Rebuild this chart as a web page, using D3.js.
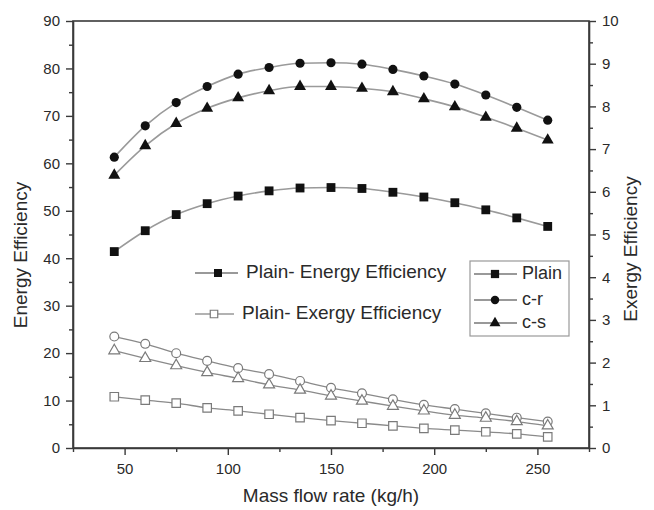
<!DOCTYPE html>
<html>
<head>
<meta charset="utf-8">
<script src="https://cdn.jsdelivr.net/npm/d3@7"></script>
<style>
  html, body { margin: 0; padding: 0; background: #fff; }
  svg { display: block; }
  text { font-family: "Liberation Sans", Arial, sans-serif; fill: #2a2a2a; }
</style>
</head>
<body>
<svg id="chart" width="654" height="510"></svg>
<script>
// ---- data ----
const massFlow = [45, 60, 75, 90, 105, 120, 135, 150, 165, 180, 195, 210, 225, 240, 255];

const energyPlain = [41.4, 45.8, 49.2, 51.5, 53.1, 54.2, 54.8, 54.9, 54.7, 53.9, 52.9, 51.7, 50.2, 48.5, 46.7];
const energyCR    = [61.3, 67.9, 72.8, 76.2, 78.8, 80.2, 81.1, 81.2, 80.9, 79.8, 78.4, 76.7, 74.4, 71.8, 69.1];
const energyCS    = [57.5, 63.7, 68.4, 71.6, 73.8, 75.3, 76.2, 76.2, 75.8, 75.1, 73.6, 71.9, 69.7, 67.4, 64.9];

const exergyPlain = [1.20, 1.12, 1.05, 0.94, 0.87, 0.79, 0.71, 0.64, 0.58, 0.52, 0.46, 0.42, 0.38, 0.33, 0.26];
const exergyCR    = [2.61, 2.44, 2.22, 2.04, 1.87, 1.73, 1.57, 1.41, 1.28, 1.14, 1.01, 0.91, 0.81, 0.71, 0.62];
const exergyCS    = [2.28, 2.10, 1.93, 1.77, 1.63, 1.48, 1.36, 1.22, 1.10, 0.98, 0.87, 0.77, 0.70, 0.62, 0.52];

const xTickLabels = [50, 100, 150, 200, 250];
const leftTickLabels = [0, 10, 20, 30, 40, 50, 60, 70, 80, 90];
const rightTickLabels = [0, 1, 2, 3, 4, 5, 6, 7, 8, 9, 10];

const seriesNames = ["Plain", "c-r", "c-s"];
const legendTypeNames = ["Plain- Energy Efficiency", "Plain- Exergy Efficiency"];

const xTitle = "Mass flow rate (kg/h)";
const yLeftTitle = "Energy Efficiency";
const yRightTitle = "Exergy Efficiency";

// ---- layout ----
const svg = d3.select("#chart");
const L = 73, R = 589, T = 21, B = 448;

const x = d3.scaleLinear().domain([25, 275]).range([L, R]);
const yL = d3.scaleLinear().domain([0, 90]).range([B, T]);
const yR = d3.scaleLinear().domain([0, 10]).range([B, T]);

const axisColor = "#3a3a3a";

// frame
svg.append("rect").attr("x", L).attr("y", T).attr("width", R - L).attr("height", B - T)
  .attr("fill", "none").attr("stroke", axisColor).attr("stroke-width", 1.6);

function styleAxis(g) {
  g.select(".domain").attr("stroke", axisColor).attr("stroke-width", 1.6);
  g.selectAll(".tick line").attr("stroke", axisColor).attr("stroke-width", 1.4);
  g.selectAll(".tick text").attr("font-size", 15).attr("fill", "#333")
    .attr("font-family", "'Liberation Sans', Arial, sans-serif");
}

// minor ticks
const xMinor = d3.range(25, 276, 25).filter(v => !xTickLabels.includes(v));
svg.append("g").attr("transform", `translate(0,${B})`)
  .call(d3.axisBottom(x).tickValues(xMinor).tickSize(4).tickFormat(""))
  .call(g => { g.select(".domain").remove(); g.selectAll(".tick line").attr("stroke", axisColor).attr("stroke-width", 1.4); });
svg.append("g").attr("transform", `translate(${L},0)`)
  .call(d3.axisLeft(yL).tickValues(d3.range(5, 90, 10)).tickSize(4).tickFormat(""))
  .call(g => { g.select(".domain").remove(); g.selectAll(".tick line").attr("stroke", axisColor).attr("stroke-width", 1.4); });
svg.append("g").attr("transform", `translate(${R},0)`)
  .call(d3.axisRight(yR).tickValues(d3.range(0.5, 10, 1)).tickSize(4).tickFormat(""))
  .call(g => { g.select(".domain").remove(); g.selectAll(".tick line").attr("stroke", axisColor).attr("stroke-width", 1.4); });

// major axes
svg.append("g").attr("transform", `translate(0,${B})`)
  .call(d3.axisBottom(x).tickValues(xTickLabels).tickSize(7).tickPadding(8).tickSizeOuter(0))
  .call(styleAxis);
svg.append("g").attr("transform", `translate(${L},0)`)
  .call(d3.axisLeft(yL).tickValues(leftTickLabels).tickSize(7).tickPadding(6).tickSizeOuter(0))
  .call(styleAxis);
svg.append("g").attr("transform", `translate(${R},0)`)
  .call(d3.axisRight(yR).tickValues(rightTickLabels).tickSize(7).tickPadding(6).tickSizeOuter(0))
  .call(styleAxis);

// axis titles
svg.append("text").attr("x", 331).attr("y", 497).attr("text-anchor", "middle")
  .attr("dominant-baseline", "middle").attr("font-size", 19).text(xTitle);
svg.append("text").attr("transform", `translate(22,255) rotate(-90)`)
  .attr("text-anchor", "middle").attr("dominant-baseline", "middle").attr("font-size", 19).text(yLeftTitle);
svg.append("text").attr("transform", `translate(632,249) rotate(-90)`)
  .attr("text-anchor", "middle").attr("dominant-baseline", "middle").attr("font-size", 19).text(yRightTitle);

// ---- series ----
const symTypes = [d3.symbolSquare, d3.symbolCircle, d3.symbolTriangle];
const filledSizes = [78, 66, 62];
const openSizes = [72, 62, 52];

const energySeries = [energyPlain, energyCR, energyCS];
const exergySeries = [exergyPlain, exergyCR, exergyCS];

const lineE = d3.line().x((d, i) => x(massFlow[i])).y(d => yL(d)).curve(d3.curveMonotoneX);
const lineX = d3.line().x((d, i) => x(massFlow[i])).y(d => yR(d)).curve(d3.curveMonotoneX);

exergySeries.forEach((vals, k) => {
  svg.append("path").datum(vals).attr("d", lineX).attr("fill", "none")
    .attr("stroke", "#8a8a8a").attr("stroke-width", 1.3);
});
exergySeries.forEach((vals, k) => {
  svg.append("g").selectAll("path").data(vals).join("path")
    .attr("transform", (d, i) => `translate(${x(massFlow[i])},${yR(d)})`)
    .attr("d", d3.symbol().type(symTypes[k]).size(openSizes[k]))
    .attr("fill", "#fff").attr("stroke", "#7a7a7a").attr("stroke-width", 1.2);
});

energySeries.forEach((vals, k) => {
  svg.append("path").datum(vals).attr("d", lineE).attr("fill", "none")
    .attr("stroke", "#9a9a9a").attr("stroke-width", 1.6);
  svg.append("g").selectAll("path").data(vals).join("path")
    .attr("transform", (d, i) => `translate(${x(massFlow[i])},${yL(d)})`)
    .attr("d", d3.symbol().type(symTypes[k]).size(filledSizes[k]))
    .attr("fill", "#111");
});

// ---- legend 1 (type legend, no border) ----
const leg1 = [
  { y: 273, x0: 195, x1: 238, mx: 218, filled: true, label: legendTypeNames[0], tx: 246 },
  { y: 314, x0: 195, x1: 234, mx: 214, filled: false, label: legendTypeNames[1], tx: 242 }
];
leg1.forEach(d => {
  svg.append("line").attr("x1", d.x0).attr("x2", d.x1).attr("y1", d.y).attr("y2", d.y)
    .attr("stroke", d.filled ? "#777" : "#999").attr("stroke-width", 1.3);
  svg.append("path").attr("transform", `translate(${d.mx},${d.y})`)
    .attr("d", d3.symbol().type(d3.symbolSquare).size(d.filled ? 64 : 56))
    .attr("fill", d.filled ? "#111" : "#fff").attr("stroke", d.filled ? "none" : "#7a7a7a").attr("stroke-width", 1.2);
  svg.append("text").attr("x", d.tx).attr("y", d.y).attr("dominant-baseline", "middle")
    .attr("font-size", 19).text(d.label);
});

// ---- legend 2 (series legend, boxed) ----
svg.append("rect").attr("x", 470).attr("y", 261).attr("width", 99).attr("height", 75)
  .attr("fill", "#fff").attr("stroke", "#999").attr("stroke-width", 1.2);
const leg2Y = [274, 300, 323];
seriesNames.forEach((name, k) => {
  const yy = leg2Y[k];
  svg.append("line").attr("x1", 474).attr("x2", 517).attr("y1", yy).attr("y2", yy)
    .attr("stroke", "#777").attr("stroke-width", 1.3);
  svg.append("path").attr("transform", `translate(495,${yy})`)
    .attr("d", d3.symbol().type(symTypes[k]).size(filledSizes[k] - 10))
    .attr("fill", "#111");
  svg.append("text").attr("x", 522).attr("y", yy).attr("dominant-baseline", "middle")
    .attr("font-size", 18).text(name);
});
</script>
</body>
</html>
